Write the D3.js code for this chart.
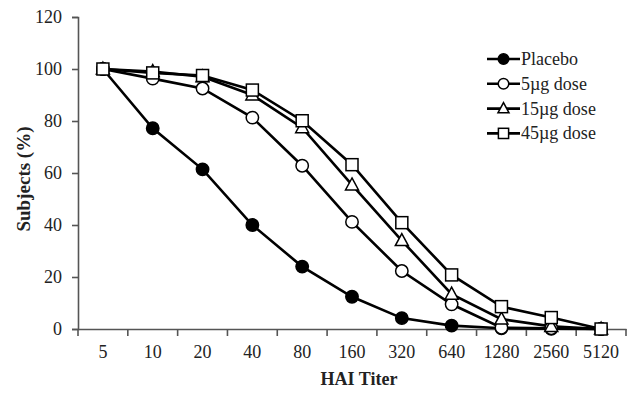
<!DOCTYPE html>
<html><head><meta charset="utf-8">
<script src="https://cdn.jsdelivr.net/npm/d3@7"></script>
<style>body{margin:0;background:#fff}svg{display:block}</style>
</head><body><svg id="c" width="633" height="393"></svg>
<script>
const categories = ["5","10","20","40","80","160","320","640","1280","2560","5120"];
const placebo = [100,77.2,61.4,40,24,12.4,4.2,1.3,0.3,0.1,0];
const dose5 = [100,96.3,92.5,81.3,62.8,41.2,22.3,9.5,0.5,0.3,0];
const dose15 = [100,99,97,90,77.4,55.4,34,13.4,3.8,1,0];
const dose45 = [100,98.5,97.5,91.9,80.1,63.2,40.9,20.8,8.6,4.4,0];
const yTicks = [0,20,40,60,80,100,120];
const seriesNames = ["Placebo","5\u00b5g dose","15\u00b5g dose","45\u00b5g dose"];
const seriesShapes = ["filledCircle","circle","triangle","square"];

(function(){
const svg = d3.select("#c");
const mLeft = 78, mRight = 626, mTop = 17, mBottom = 329;
const x = d3.scaleBand().domain(categories).range([mLeft, mRight]);
const y = d3.scaleLinear().domain([0,120]).range([mBottom, mTop]);
const axisColor = "#555";
const font = "'Liberation Serif','Times New Roman',serif";

const ya = svg.append("g").attr("transform",`translate(${mLeft},0)`)
  .call(d3.axisLeft(y).tickValues(yTicks).tickSize(6).tickPadding(10));
ya.select(".domain").attr("stroke",axisColor).attr("stroke-width",1.6);
ya.selectAll(".tick line").attr("stroke",axisColor).attr("stroke-width",1.6);
ya.selectAll("text").attr("font-family",font).attr("font-size",18).attr("fill","#222");

const xa = svg.append("g").attr("transform",`translate(0,${mBottom})`)
  .call(d3.axisBottom(x).tickSize(0).tickPadding(16));
xa.select(".domain").attr("stroke",axisColor).attr("stroke-width",1.6);
xa.selectAll("text").attr("font-family",font).attr("font-size",18).attr("fill","#222");
const bounds = categories.map(c => x(c)).concat([mRight]);
xa.selectAll(".btick").data(bounds).enter().append("line")
  .attr("x1",d=>d).attr("x2",d=>d).attr("y1",0).attr("y2",7)
  .attr("stroke",axisColor).attr("stroke-width",1.6);

svg.append("text").attr("x",359).attr("y",385).attr("text-anchor","middle")
  .attr("font-family",font).attr("font-weight","bold").attr("font-size",18).attr("fill","#222").text("HAI Titer");
svg.append("text").attr("transform","translate(30,179) rotate(-90)").attr("text-anchor","middle")
  .attr("font-family",font).attr("font-weight","bold").attr("font-size",19).attr("fill","#222").text("Subjects (%)");

const cx = c => x(c) + x.bandwidth()/2;
const line = d3.line().x((d,i)=>cx(categories[i])).y(d=>y(d));

function marker(g, shape, px, py, s) {
  if (shape === "filledCircle") g.append("circle").attr("cx",px).attr("cy",py).attr("r",6.2*s).attr("fill","#000").attr("stroke","#000").attr("stroke-width",1.5);
  else if (shape === "circle") g.append("circle").attr("cx",px).attr("cy",py).attr("r",6.2*s).attr("fill","#fff").attr("stroke","#000").attr("stroke-width",1.5);
  else if (shape === "triangle") g.append("path").attr("d",`M${px},${py-7*s}L${px+6.5*s},${py+5*s}L${px-6.5*s},${py+5*s}Z`).attr("fill","#fff").attr("stroke","#000").attr("stroke-width",1.5);
  else g.append("rect").attr("x",px-6*s).attr("y",py-6*s).attr("width",12*s).attr("height",12*s).attr("fill","#fff").attr("stroke","#000").attr("stroke-width",1.5);
}

const allSeries = [placebo, dose5, dose15, dose45];
allSeries.forEach((vals) => {
  svg.append("path").datum(vals).attr("d",line).attr("fill","none").attr("stroke","#000").attr("stroke-width",2.6);
});
allSeries.forEach((vals, si) => {
  const g = svg.append("g");
  vals.forEach((v,i) => marker(g, seriesShapes[si], cx(categories[i]), y(v), 1));
});

const lg = svg.append("g");
seriesNames.forEach((n,i) => {
  const ly = 59 + i*24.8;
  lg.append("line").attr("x1",487).attr("x2",520).attr("y1",ly).attr("y2",ly).attr("stroke","#000").attr("stroke-width",2.6);
  marker(lg, seriesShapes[i], 503.5, ly, 0.85);
  lg.append("text").attr("x",521).attr("y",ly+6).attr("font-family",font).attr("font-size",18).attr("fill","#222").text(n);
});
})();
</script></body></html>
